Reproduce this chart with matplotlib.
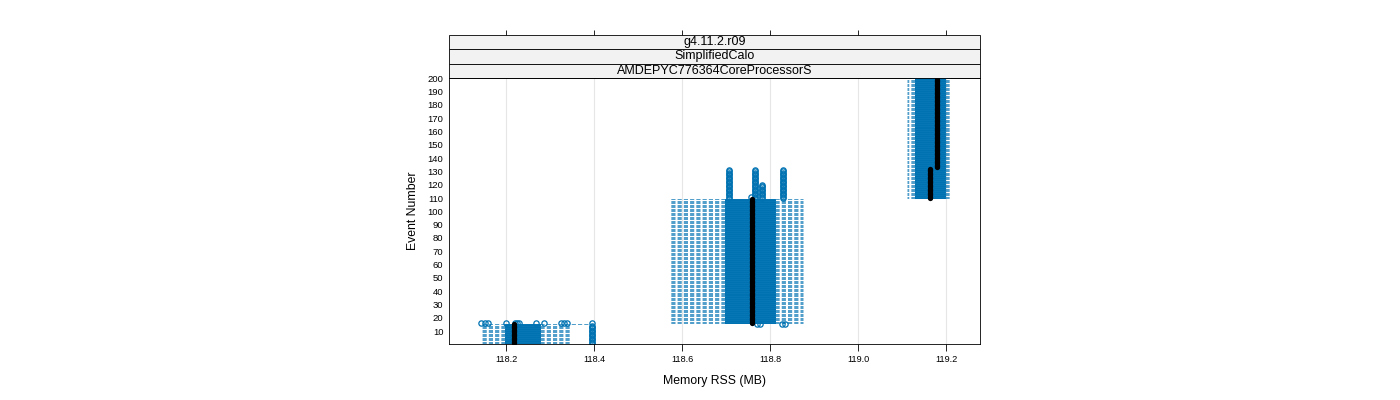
import matplotlib.pyplot as plt
import matplotlib.transforms as mtransforms
from matplotlib.patches import Rectangle

plt.rcParams['font.family'] = ['Liberation Sans', 'DejaVu Sans']
plt.rcParams['lines.scale_dashes'] = False

# per-event box summaries, given by event ranges (first, last)
grp_first = [1, 15, 16, 110, 133]
grp_last = [14, 15, 109, 132, 200]
grp_whislo = [118.143, 118.143, 118.573, 119.111, 119.111]
grp_q1 = [118.198, 118.198, 118.698, 119.130, 119.130]
grp_med = [118.218, 118.218, 118.759, 119.164, 119.180]
grp_q3 = [118.277, 118.277, 118.811, 119.198, 119.198]
grp_whishi = [118.345, 118.395, 118.875, 119.209, 119.209]

# outliers: value, first event, last event
out_val = [118.395, 118.707, 118.766, 118.782, 118.830, 118.757,
           118.770, 118.777, 118.826, 118.833]
out_first = [1, 110, 110, 110, 110, 111, 15, 15, 15, 15]
out_last = [14, 131, 131, 120, 131, 111, 15, 15, 15, 15]
# single event with scattered low outliers
ev16_out = [118.143, 118.152, 118.159, 118.200, 118.220, 118.225, 118.230,
            118.268, 118.286, 118.325, 118.332, 118.338, 118.395]

strip_labels = ['g4.11.2.r09', 'SimplifiedCalo', 'AMDEPYC776364CoreProcessorS']
x_ticks = [118.2, 118.4, 118.6, 118.8, 119.0, 119.2]
y_ticks = list(range(10, 201, 10))

blue = '#0072B2'

# build the bxp stats list
stats = []
events = []
for g in range(len(grp_first)):
    for ev in range(grp_first[g], grp_last[g] + 1):
        fl = [v for v, a, b in zip(out_val, out_first, out_last) if a <= ev <= b]
        if ev == 16:
            fl = fl + ev16_out
        stats.append(dict(whislo=grp_whislo[g], q1=grp_q1[g], med=grp_med[g],
                          q3=grp_q3[g], whishi=grp_whishi[g], fliers=fl))
        events.append(ev)

fig = plt.figure(figsize=(14, 4), dpi=100)
ax = fig.add_axes([449 / 1400, 1 - 344 / 400, 531 / 1400, 266 / 400])

for xt in x_ticks:
    ax.axvline(xt, color='#e6e6e6', lw=0.8, zorder=0)

ax.bxp(stats, positions=events, orientation='horizontal', widths=0.5,
       showcaps=False, manage_ticks=False,
       boxprops=dict(color=blue, lw=0.7),
       whiskerprops=dict(color=blue, lw=0.7, alpha=0.7,
                         linestyle=(0, (3.0, 1.5))),
       medianprops=dict(linestyle='none'),
       flierprops=dict(marker='o', mfc='none', mec=blue, ms=3.8, mew=0.9))
ax.plot([s['med'] for s in stats], events, 'o', color='black', ms=3.8,
        mew=0, zorder=5)

ax.set_xlim(118.0705, 119.277)
ax.set_ylim(0.3, 200.2)
ax.set_xticks(x_ticks)
ax.set_xticklabels([f'{t:.1f}' for t in x_ticks], fontsize=6.6)
ax.set_yticks(y_ticks)
ax.set_yticklabels([str(t) for t in y_ticks], fontsize=6.8)
ax.tick_params(axis='x', direction='out', length=5, width=0.6, pad=3)
ax.tick_params(axis='y', length=0, pad=4)
for sp in ax.spines.values():
    sp.set_linewidth(0.6)
ax.set_xlabel('Memory RSS (MB)', fontsize=8.8, labelpad=8)
ax.set_ylabel('Event Number', fontsize=8.8, labelpad=6)

# strips above the panel
h = 14.5 / 266
for i, lab in enumerate(reversed(strip_labels)):
    y0 = 1 + i * h
    ax.add_patch(Rectangle((0, y0), 1, h, transform=ax.transAxes,
                           facecolor='#f2f2f2', edgecolor='black', lw=0.6,
                           clip_on=False))
    ax.text(0.5, y0 + h / 2, lab, transform=ax.transAxes, ha='center',
            va='center', fontsize=9)

# top ticks above strips
trans = mtransforms.blended_transform_factory(ax.transData, ax.transAxes)
y_top = 1 + 3 * h
ax.vlines(x_ticks, y_top, y_top + 5 / 266, transform=trans, color='black',
          lw=0.6, clip_on=False)

fig.savefig('out.png', dpi=100)
